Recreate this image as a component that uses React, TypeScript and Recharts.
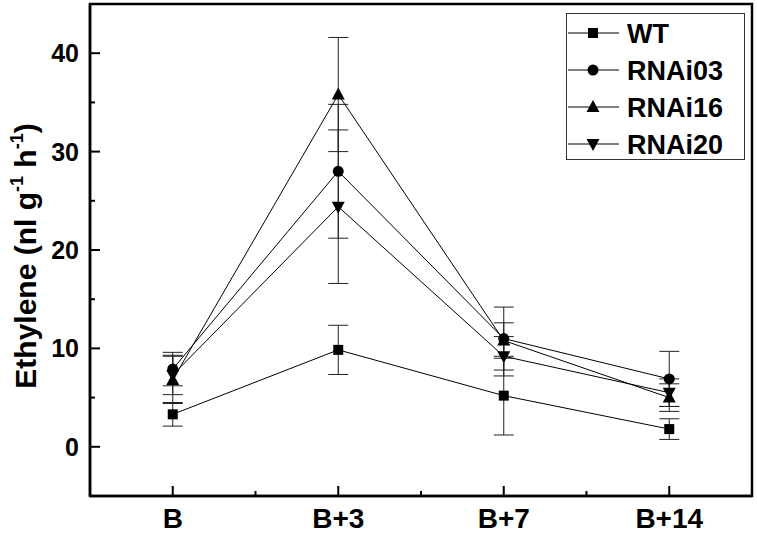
import React from "react";
import { LineChart, Line, XAxis, YAxis, ErrorBar, ReferenceArea } from "recharts";

const categories = ["B", "B+3", "B+7", "B+14"];
const wt = [3.3, 9.85, 5.2, 1.8];
const wtErr = [1.2, 2.5, 4.0, 1.05];
const rnai03 = [7.9, 28.0, 11.0, 6.9];
const rnai03Err = [1.7, 6.8, 3.2, 2.8];
const rnai16 = [6.8, 35.8, 10.8, 5.0];
const rnai16Err = [2.4, 5.8, 1.8, 1.4];
const rnai20 = [7.3, 24.4, 9.2, 5.5];
const rnai20Err = [2.0, 7.8, 2.0, 1.4];

const xTicks = [1, 1.5, 2, 2.5, 3, 3.5, 4];
const yTicks = [0, 5, 10, 15, 20, 25, 30, 35, 40];

const FONT = "'Liberation Sans', Arial, sans-serif";

type Shape = "square" | "circle" | "up" | "down";

const series: { key: string; name: string; shape: Shape }[] = [
  { key: "wt", name: "WT", shape: "square" },
  { key: "rnai03", name: "RNAi03", shape: "circle" },
  { key: "rnai16", name: "RNAi16", shape: "up" },
  { key: "rnai20", name: "RNAi20", shape: "down" },
];

const data = categories.map((c, i) => ({
  x: i + 1,
  wt: wt[i],
  wtErr: wtErr[i],
  rnai03: rnai03[i],
  rnai03Err: rnai03Err[i],
  rnai16: rnai16[i],
  rnai16Err: rnai16Err[i],
  rnai20: rnai20[i],
  rnai20Err: rnai20Err[i],
}));

const Marker = ({ cx, cy, shape }: { cx: number; cy: number; shape: Shape }) => {
  if (cx == null || cy == null) return null;
  if (shape === "square")
    return <rect x={cx - 5} y={cy - 5} width={10} height={10} fill="#000" />;
  if (shape === "circle") return <circle cx={cx} cy={cy} r={5.5} fill="#000" />;
  if (shape === "up")
    return (
      <polygon
        points={`${cx},${cy - 7} ${cx + 6.5},${cy + 5} ${cx - 6.5},${cy + 5}`}
        fill="#000"
      />
    );
  return (
    <polygon
      points={`${cx},${cy + 7} ${cx + 6.5},${cy - 5} ${cx - 6.5},${cy - 5}`}
      fill="#000"
    />
  );
};

const X_MARGIN = 12;
const Y_MARGIN = 12;

const XTick = (props: any) => {
  const { x, y, payload } = props;
  const major = Number.isInteger(payload.value);
  const axisY = y - X_MARGIN;
  return (
    <g>
      <line x1={x} x2={x} y1={axisY} y2={axisY - (major ? 10 : 5)} stroke="#000" strokeWidth={2} />
      {major && (
        <text
          x={x}
          y={axisY + 32}
          textAnchor="middle"
          fontFamily={FONT}
          fontWeight="bold"
          fontSize={28}
          fill="#000"
        >
          {categories[payload.value - 1]}
        </text>
      )}
    </g>
  );
};

const YTick = (props: any) => {
  const { x, y, payload } = props;
  const major = payload.value % 10 === 0;
  const axisX = x + Y_MARGIN;
  return (
    <g>
      <line x1={axisX} x2={axisX + (major ? 10 : 5)} y1={y} y2={y} stroke="#000" strokeWidth={2} />
      {major && (
        <text
          x={axisX - 11}
          y={y + 9}
          textAnchor="end"
          fontFamily={FONT}
          fontWeight="bold"
          fontSize={25}
          fill="#000"
        >
          {payload.value}
        </text>
      )}
    </g>
  );
};

const YLabel = (props: any) => {
  const vb = props.viewBox || { x: 0, y: 0, width: 90, height: 490 };
  const cx = vb.x + 25;
  const cy = vb.y + vb.height / 2 + 6;
  return (
    <text
      transform={`translate(${cx},${cy}) rotate(-90)`}
      textAnchor="middle"
      fontFamily={FONT}
      fontWeight="bold"
      fontSize={30}
      fill="#000"
      dy={11}
    >
      <tspan>Ethylene (nl g</tspan>
      <tspan fontSize={18} dy={-13}>-1</tspan>
      <tspan dy={13}> h</tspan>
      <tspan fontSize={18} dy={-13}>-1</tspan>
      <tspan dy={13}>)</tspan>
    </text>
  );
};

const LegendBox = () => (
  <svg
    width={180}
    height={148}
    style={{ position: "absolute", left: 566, top: 13 }}
  >
    <rect x={0.5} y={0.5} width={178} height={146} fill="#fff" stroke="#333" strokeWidth={1} />
    {series.map((s, i) => {
      const cy = 20 + i * 37;
      return (
        <g key={s.key}>
          <line x1={2} x2={53} y1={cy} y2={cy} stroke="#000" strokeWidth={1} />
          <Marker cx={27} cy={cy} shape={s.shape} />
          <text
            x={61}
            y={cy + 10}
            fontFamily={FONT}
            fontWeight="bold"
            fontSize={27}
            fill="#000"
          >
            {s.name}
          </text>
        </g>
      );
    })}
  </svg>
);

export default function App() {
  return (
    <div style={{ position: "absolute", left: 0, top: 0, width: 757, height: 533, background: "#fff" }}>
      <LineChart
        width={757}
        height={533}
        data={data}
        margin={{ top: 4, right: 5, bottom: 0, left: 0 }}
      >
        <XAxis
          dataKey="x"
          type="number"
          domain={[0.5, 4.5]}
          ticks={xTicks}
          interval={0}
          height={37}
          tickSize={0}
          tickMargin={X_MARGIN}
          tickLine={false}
          axisLine={{ stroke: "#000", strokeWidth: 2.5 }}
          tick={<XTick />}
          allowDataOverflow
        />
        <YAxis
          type="number"
          domain={[-5, 45]}
          ticks={yTicks}
          interval={0}
          width={90}
          tickSize={0}
          tickMargin={Y_MARGIN}
          tickLine={false}
          axisLine={{ stroke: "#000", strokeWidth: 2.5 }}
          tick={<YTick />}
          label={<YLabel />}
          allowDataOverflow
        />
        <ReferenceArea
          x1={0.5}
          x2={4.5}
          y1={-5}
          y2={45}
          fill="none"
          fillOpacity={0}
          stroke="#000"
          strokeWidth={2.5}
          ifOverflow="visible"
        />
        {series.map((s) => (
          <Line
            key={s.key}
            dataKey={s.key}
            name={s.name}
            type="linear"
            stroke="#000"
            strokeWidth={1}
            isAnimationActive={false}
            activeDot={false}
            dot={(p: any) => <Marker key={`${s.key}-${p.index}`} cx={p.cx} cy={p.cy} shape={s.shape} />}
          >
            <ErrorBar
              dataKey={`${s.key}Err`}
              width={10}
              stroke="#222"
              strokeWidth={1}
              direction="y"
              isAnimationActive={false}
            />
          </Line>
        ))}
      </LineChart>
      <LegendBox />
    </div>
  );
}
